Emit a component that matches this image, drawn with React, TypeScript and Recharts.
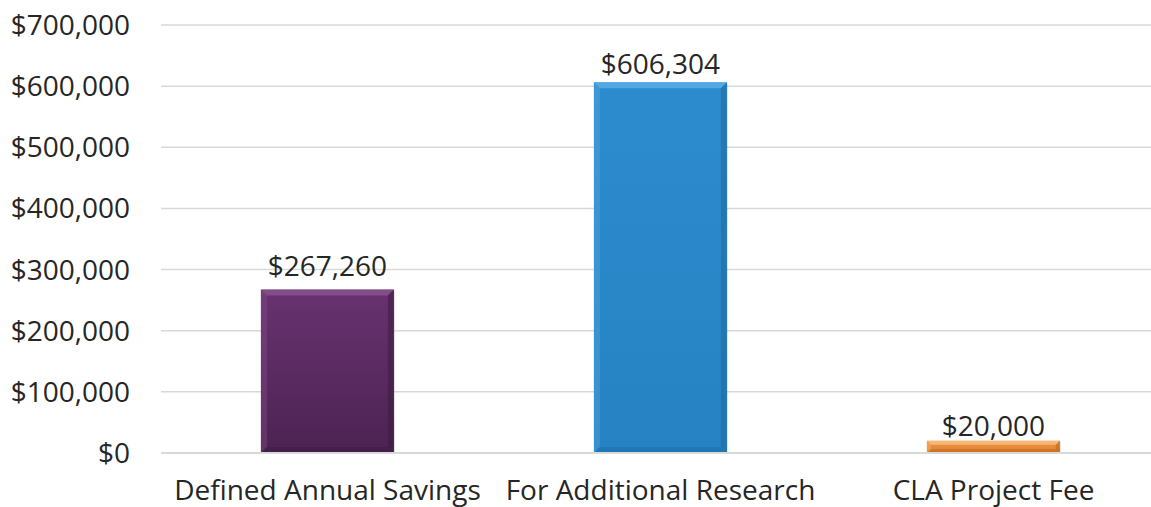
import { BarChart, Bar, XAxis, YAxis, CartesianGrid, LabelList, Cell } from "recharts";

const categories = ["Defined Annual Savings", "For Additional Research", "CLA Project Fee"];
const amounts = [267260, 606304, 20000];
const yTicks = [0, 100000, 200000, 300000, 400000, 500000, 600000, 700000];

// top / bottom shades per bar
const barColors = [
  { id: "g0", top: "#683270", bottom: "#4c2352", light: "#8a5490", dark: "#3a1a3e" },
  { id: "g1", top: "#2d8cce", bottom: "#2682c3", light: "#5cb0e6", dark: "#1c679e" },
  { id: "g2", top: "#f09a4a", bottom: "#dc7c2a", light: "#f7bf85", dark: "#b5611a" },
];

const data = categories.map((name, i) => ({ name, amount: amounts[i] }));

const fmt = (v: number) => "$" + v.toLocaleString("en-US");

const FONT = "'Open Sans', sans-serif";
const TEXT = "#262626";

const BevelBar = (props: any) => {
  const { x, y, width, height, index } = props;
  const c = barColors[index];
  const b = Math.min(6, height / 3);
  return (
    <g>
      <rect x={x + 1} y={y + 1} width={width} height={height} fill="#000" opacity={0.12} />
      <rect x={x} y={y} width={width} height={height} fill={`url(#${c.id})`} />
      <polygon
        points={`${x},${y} ${x + width},${y} ${x + width - b},${y + b} ${x + b},${y + b}`}
        fill={c.light}
        opacity={0.8}
      />
      <polygon
        points={`${x},${y} ${x + b},${y + b} ${x + b},${y + height - b} ${x},${y + height}`}
        fill={c.light}
        opacity={0.35}
      />
      <polygon
        points={`${x + width},${y} ${x + width},${y + height} ${x + width - b},${y + height - b} ${x + width - b},${y + b}`}
        fill={c.dark}
        opacity={0.5}
      />
      <polygon
        points={`${x},${y + height} ${x + width},${y + height} ${x + width - b},${y + height - b} ${x + b},${y + height - b}`}
        fill={c.dark}
        opacity={0.4}
      />
    </g>
  );
};

// excel placed the labels a little unevenly above the bars
const labelLift = [14, 8, 5];

const ValueLabel = (props: any) => {
  const { x, y, width, value, index } = props;
  return (
    <text
      x={x + width / 2}
      y={y - labelLift[index]}
      textAnchor="middle"
      fill={TEXT}
      fontSize={28}
      fontFamily={FONT}
    >
      {fmt(Number(value))}
    </text>
  );
};

export default function App() {
  return (
    <div style={{ position: "fixed", left: 0, top: 0, width: 1151, height: 507, overflow: "hidden", background: "#fff" }}>
      <BarChart
        width={1160}
        height={507}
        data={data}
        margin={{ top: 25, right: 0, bottom: 0, left: 0 }}
        barCategoryGap="30%"
      >
        <defs>
          {barColors.map((c) => (
            <linearGradient key={c.id} id={c.id} x1="0" y1="0" x2="0" y2="1">
              <stop offset="0%" stopColor={c.top} />
              <stop offset="100%" stopColor={c.bottom} />
            </linearGradient>
          ))}
        </defs>
        <CartesianGrid vertical={false} stroke="#d9d9d9" strokeWidth={1.5} />
        <XAxis
          dataKey="name"
          tickLine={false}
          axisLine={{ stroke: "#d9d9d9", strokeWidth: 2 }}
          tickSize={0}
          tickMargin={27}
          height={54}
          interval={0}
          tick={{ fill: TEXT, fontSize: 28, fontFamily: FONT }}
        />
        <YAxis
          width={161}
          domain={[0, 700000]}
          ticks={yTicks}
          tickFormatter={fmt}
          axisLine={false}
          tickLine={false}
          tickSize={0}
          tickMargin={31}
          tick={{ fill: TEXT, fontSize: 28, fontFamily: FONT }}
        />
        <Bar dataKey="amount" isAnimationActive={false} shape={<BevelBar />}>
          {data.map((d, i) => (
            <Cell key={d.name} fill={barColors[i].top} />
          ))}
          <LabelList dataKey="amount" content={<ValueLabel />} />
        </Bar>
      </BarChart>
    </div>
  );
}
